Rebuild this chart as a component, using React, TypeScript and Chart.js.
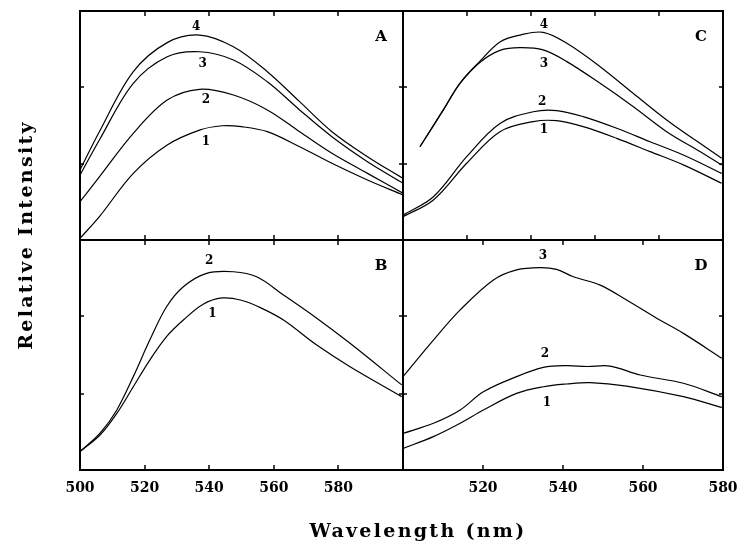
import React, { useEffect, useRef } from "react";
import { Chart, registerables } from "chart.js";

Chart.register(...registerables);

// ---------------- Data ----------------
// Panel A
const aWave = [500, 506, 516.5, 527, 537, 547.5, 558, 568, 578, 589, 600];
const aCurve4 = [30.6, 47.3, 73.5, 86.2, 89.5, 84.4, 73.5, 60.4, 47.3, 36.4, 26.9];
const aCurve3 = [28.4, 43.7, 68.4, 80, 82.2, 78.6, 69.1, 56.8, 45.1, 34.2, 24.8];
const aCurve2 = [16.7, 27.6, 46.6, 61.1, 65.8, 63.3, 56.8, 47.3, 37.9, 29.1, 20.4];
const aWave1 = [500, 506, 516.5, 527, 537, 544, 550, 558, 568, 578, 589, 600];
const aCurve1 = [0.7, 10.2, 29.1, 41.5, 48, 49.9, 49.5, 47.3, 40.7, 33.5, 26.2, 19.7];

// Panel B
const bWave2 = [500, 506.2, 511.4, 516.5, 521.6, 526.8, 532, 539.2, 547.5, 554.7, 563, 573.3, 583.6, 599.6];
const bCurve2 = [8, 16, 26.1, 40.6, 56.5, 71, 79.7, 85.5, 86.2, 84, 76.1, 66, 55.1, 37];
const bWave1 = [500, 506.2, 511.4, 516.5, 521.6, 526.8, 532, 538, 544, 550, 556, 563, 573.3, 583.6, 599.6];
const bCurve1 = [8, 15.2, 24.6, 36.2, 47.8, 58, 65.2, 72, 74.8, 73.8, 70.5, 65.2, 54.3, 44.9, 31.9];

// Panel C
const cWave4 = [505.3, 512.6, 517.8, 524, 530.3, 536.6, 543.8, 551.2, 561.6, 572, 582.4, 592.8, 599.6];
const cCurve4 = [40.7, 56.8, 68.4, 78, 86.5, 89.5, 90.7, 85.9, 75.7, 64, 52.4, 42.2, 35.7];
const cWave3 = [505.3, 512.6, 517.8, 524, 530.3, 536.6, 543.8, 551.2, 561.6, 572, 582.4, 592.8, 599.6];
const cCurve3 = [40.7, 56.8, 68.4, 77.5, 82.8, 84, 83, 77.9, 68.4, 58.2, 47.3, 38.6, 32.8];
const cWave12 = [500, 509.5, 519.9, 530.3, 540.7, 548, 556.3, 566.8, 577.2, 587.6, 599.6];
const cCurve2 = [10.9, 18.9, 36.4, 50.9, 56, 56.5, 53.9, 48.8, 42.9, 37.1, 29.1];
const cCurve1 = [10.2, 17.5, 33.5, 47.3, 51.7, 52.1, 49.5, 44.4, 38.6, 32.8, 24.8];

// Panel D
const dWave3 = [500, 507.6, 514.3, 522.6, 528.4, 534.3, 538.4, 542.6, 549.3, 555.9, 563.4, 570.1, 579.7];
const dCurve3 = [40.6, 56.5, 69.6, 82.6, 87, 88, 87.2, 84, 80.4, 73.9, 66, 59.4, 48.6];
const dWave2 = [500, 507.6, 514.3, 520.1, 528.4, 535.1, 540.9, 546, 551.8, 559.3, 570.1, 579.7];
const dCurve2 = [15.9, 20.3, 26.1, 34, 40.6, 44.6, 45.4, 45, 45.2, 41.3, 37.7, 31.9];
const dWave1 = [500, 507.6, 514.3, 520.1, 528.4, 535.1, 540.9, 546.8, 555.9, 570.1, 579.7];
const dCurve1 = [9.4, 14.5, 20.3, 26.1, 33.3, 36.2, 37.4, 38, 36.5, 31.9, 27.2];

// Curve label anchors [text, wavelength, intensity]
const aLabels = [["4", 536, 93], ["3", 538, 77], ["2", 539, 61], ["1", 539, 43]];
const bLabels = [["2", 540, 91], ["1", 541, 68]];
const cLabels = [["4", 544, 94], ["3", 544, 77], ["2", 543.5, 60.5], ["1", 544, 48]];
const dLabels = [["3", 535, 93], ["2", 535.5, 50.5], ["1", 536, 29]];

// Ticks
const xTicksLeft = [500, 520, 540, 560, 580];
const xTicksRight = [520, 540, 560, 580];
const frameTicksX = [520, 540, 560, 580];
const frameTicksY = [33, 67];

const xTitle = "Wavelength (nm)";
const yTitle = "Relative Intensity";

// ---------------- Rendering ----------------
const W = 748;
const H = 555;
const FONT = "'DejaVu Serif', serif";

const framePlugin = {
  id: "frame",
  afterDraw(chart: any, _args: any, opts: any) {
    const { ctx, chartArea: ca, scales } = chart;
    const xs = scales.x;
    const ys = scales.y;
    ctx.save();
    ctx.strokeStyle = "#000";
    ctx.fillStyle = "#000";
    ctx.lineWidth = 2;
    ctx.strokeRect(ca.left, ca.top, ca.right - ca.left, ca.bottom - ca.top);
    ctx.lineWidth = 1.5;
    const seg = (x1: number, y1: number, x2: number, y2: number) => {
      ctx.beginPath();
      ctx.moveTo(x1, y1);
      ctx.lineTo(x2, y2);
      ctx.stroke();
    };
    for (const v of frameTicksX) {
      if (v <= xs.min || v >= xs.max) continue;
      const px = Math.round(xs.getPixelForValue(v));
      seg(px, ca.bottom, px, ca.bottom - 5);
      seg(px, ca.top, px, ca.top + 5);
    }
    for (const v of frameTicksY) {
      const py = Math.round(ys.getPixelForValue(v));
      seg(ca.left, py, ca.left + 4, py);
      seg(ca.right, py, ca.right - 4, py);
    }
    ctx.textAlign = "center";
    ctx.textBaseline = "middle";
    ctx.font = `bold 12px ${FONT}`;
    for (const l of opts.labels) {
      ctx.fillText(l[0], xs.getPixelForValue(l[1]), ys.getPixelForValue(l[2]));
    }
    ctx.font = `bold 15px ${FONT}`;
    ctx.fillText(opts.letter, ca.right - 22, ca.top + 26);
    ctx.restore();
  },
};

type PanelProps = {
  letter: string;
  series: [number[], number[]][];
  labels: any[];
  xMax: number;
  tickLabels: number[] | null;
  pad: { left: number; top: number; right: number; bottom: number };
};

function Panel({ letter, series, labels, xMax, tickLabels, pad }: PanelProps) {
  const ref = useRef<HTMLCanvasElement | null>(null);
  useEffect(() => {
    if (!ref.current) return;
    const showX = !!tickLabels;
    const chart = new Chart(ref.current, {
      type: "line",
      data: {
        datasets: series.map(([xs, ys]) => ({
          data: xs.map((x, i) => ({ x, y: ys[i] })),
          borderColor: "#000",
          borderWidth: 1.2,
          pointRadius: 0,
          fill: false,
          tension: 0.35,
        })),
      },
      options: {
        responsive: false,
        animation: false,
        events: [],
        layout: { padding: pad },
        plugins: {
          legend: { display: false },
          tooltip: { enabled: false },
          frame: { letter, labels },
        } as any,
        scales: {
          x: {
            type: "linear",
            min: 500,
            max: xMax,
            display: showX,
            position: "bottom",
            grid: { display: false },
            border: { display: false },
            ticks: {
              color: "#000",
              font: { family: FONT, weight: "bold", size: 14 },
              padding: 2,
              autoSkip: false,
              maxRotation: 0,
            },
            afterBuildTicks: (s: any) => {
              if (tickLabels) s.ticks = tickLabels.map((v) => ({ value: v }));
            },
            afterFit: (s: any) => {
              if (showX) s.height = 30;
            },
          },
          y: {
            type: "linear",
            min: 0,
            max: 100,
            display: false,
          },
        },
      },
      plugins: [framePlugin],
    } as any);
    return () => chart.destroy();
  }, []);
  return (
    <canvas
      ref={ref}
      width={W}
      height={H}
      style={{ position: "absolute", left: 0, top: 0, width: W, height: H }}
    />
  );
}

export default function App() {
  const topPad = (l: number, r: number) => ({ left: l, top: 11, right: r, bottom: H - 240 });
  const botPad = (l: number, r: number) => ({ left: l, top: 240, right: r, bottom: H - 470 - 30 });
  return (
    <div
      style={{
        position: "absolute",
        left: 0,
        top: 0,
        width: W,
        height: H,
        background: "#fff",
        overflow: "hidden",
      }}
    >
      <Panel
        letter="A"
        series={[[aWave, aCurve4], [aWave, aCurve3], [aWave, aCurve2], [aWave1, aCurve1]]}
        labels={aLabels}
        xMax={600}
        tickLabels={null}
        pad={topPad(80, W - 403)}
      />
      <Panel
        letter="C"
        series={[[cWave4, cCurve4], [cWave3, cCurve3], [cWave12, cCurve2], [cWave12, cCurve1]]}
        labels={cLabels}
        xMax={600}
        tickLabels={null}
        pad={topPad(403, W - 723)}
      />
      <Panel
        letter="B"
        series={[[bWave2, bCurve2], [bWave1, bCurve1]]}
        labels={bLabels}
        xMax={600}
        tickLabels={xTicksLeft}
        pad={botPad(80, W - 403)}
      />
      <Panel
        letter="D"
        series={[[dWave3, dCurve3], [dWave2, dCurve2], [dWave1, dCurve1]]}
        labels={dLabels}
        xMax={580}
        tickLabels={xTicksRight}
        pad={botPad(403, W - 723)}
      />
      <div
        style={{
          position: "absolute",
          left: 25 - 160,
          top: 235 - 12,
          width: 320,
          height: 24,
          lineHeight: "24px",
          textAlign: "center",
          transform: "rotate(-90deg)",
          fontFamily: FONT,
          fontWeight: "bold",
          fontSize: 19,
          letterSpacing: 2.3,
          color: "#000",
        }}
      >
        {yTitle}
      </div>
      <div
        style={{
          position: "absolute",
          left: 418 - 160,
          top: 530 - 12,
          width: 320,
          height: 24,
          lineHeight: "24px",
          textAlign: "center",
          fontFamily: FONT,
          fontWeight: "bold",
          fontSize: 19,
          letterSpacing: 2.3,
          color: "#000",
        }}
      >
        {xTitle}
      </div>
    </div>
  );
}
